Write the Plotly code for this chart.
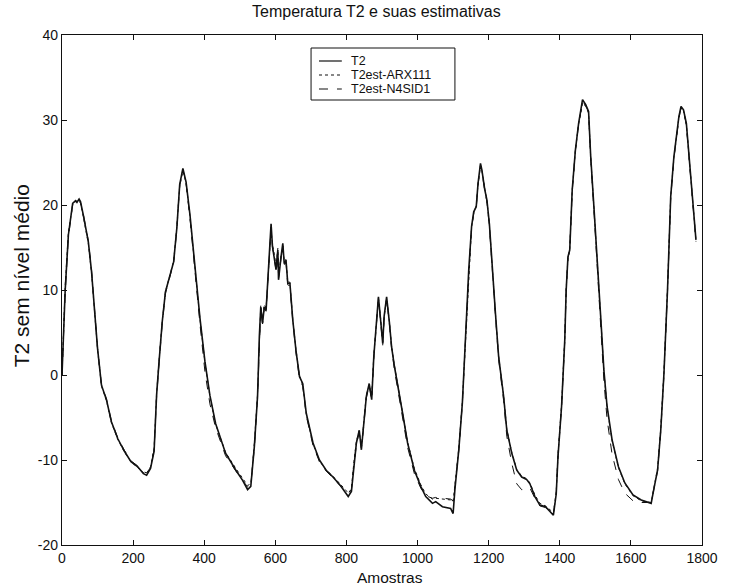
import plotly.graph_objects as go

# Sample index (Amostras)
amostras = [
    0, 5, 9, 18, 30, 38, 42, 48, 52, 60,
    74, 83, 91, 100, 111, 125, 139, 157, 176, 194,
    213, 229, 238, 249, 259, 266, 273, 282, 291, 305,
    314, 323, 331, 340, 349, 360, 374, 388, 402, 416,
    432, 460, 489, 508, 522, 531, 541, 550, 555, 559,
    564, 569, 574, 578, 583, 588, 592, 597, 602, 607,
    609, 616, 621, 625, 630, 635, 641, 649, 658, 668,
    677, 687, 706, 724, 743, 762, 781, 795, 805, 814,
    821, 828, 836, 842, 847, 856, 864, 871, 877, 885,
    890, 896, 902, 906, 913, 921, 927, 935, 944, 958,
    972, 991, 1009, 1023, 1042, 1051, 1070, 1093, 1100, 1105,
    1116, 1126, 1135, 1144, 1152, 1158, 1165, 1170, 1177, 1181,
    1189, 1195, 1202, 1209, 1219, 1228, 1242, 1251, 1265, 1279,
    1293, 1307, 1316, 1330, 1344, 1360, 1372, 1382, 1390, 1395,
    1405, 1414, 1418, 1423, 1428, 1435, 1444, 1453, 1464, 1473,
    1481, 1487, 1496, 1505, 1515, 1524, 1533, 1547, 1565, 1583,
    1606, 1629, 1657, 1666, 1675, 1684, 1693, 1703, 1707, 1712,
    1721, 1728, 1735, 1741, 1748, 1756, 1762, 1771, 1777, 1783,
]

t2 = [
    0, 5, 10, 16.5, 20.2, 20.5, 20.3, 20.7, 20.4, 18.8,
    15.7, 12.2, 7.5, 3.1, -1.2, -2.9, -5.5, -7.5, -9, -10.2,
    -10.8, -11.6, -11.8, -11, -9, -2.4, 1.6, 6.3, 9.8, 12,
    13.3, 17.3, 22.4, 24.3, 22.7, 18.8, 12.5, 6.7, 1.6, -2.4,
    -5.7, -9.2, -11.2, -12.4, -13.5, -13.1, -8.4, -2.5, 4.5, 8.0,
    6.1, 8.0, 7.6, 10.8, 13.5, 17.8, 15.1, 13.9, 12.4, 14.7,
    11.2, 13.9, 15.5, 13.1, 13.5, 10.8, 10.8, 6.5, 2.9, -0.2,
    -1.0, -4.5, -8.0, -10.0, -11.2, -12.0, -12.9, -13.7, -14.3, -13.7,
    -10.4, -8.0, -6.5, -8.8, -6.5, -2.5, -1.0, -2.9, 2.2, 6.5,
    9.2, 6.5, 3.7, 6.9, 9.2, 6.1, 3.3, 1.0, -1.0, -4.5,
    -8.0, -11.2, -13.1, -14.3, -15.1, -14.9, -15.5, -15.7, -16.3, -13.5,
    -8.8, -3.3, 4.5, 12.4, 17.5, 19.2, 19.8, 22.5, 24.9, 24.1,
    21.8, 20.6, 17.8, 13.1, 7.3, 2.2, -2.5, -6.5, -9.2, -11.2,
    -12.0, -12.3, -12.8, -14.3, -15.3, -15.5, -16.1, -16.5, -14.0, -9.6,
    -3.7, 4.1, 10, 13.9, 14.7, 21.8, 26.5, 29.6, 32.4, 31.8,
    31.0, 25.7, 19.8, 13.1, 6.9, 0.6, -3.7, -7.6, -10.8, -12.7,
    -14.1, -14.7, -15.1, -13.1, -11.2, -6.5, 0.2, 10, 15.9, 21,
    25.7, 28.4, 30.4, 31.6, 31.2, 29.6, 26.5, 22.5, 19.4, 15.9,
]

t2est_arx111 = [
    0, 5.5, 10.5, 16.8, 20.0, 20.4, 20.5, 20.5, 20.2, 18.6,
    15.5, 12.0, 7.3, 3.0, -1.3, -3.0, -5.6, -7.6, -9.1, -10.2,
    -10.9, -11.5, -11.6, -10.8, -8.6, -2.2, 1.8, 6.4, 9.8, 12.1,
    13.4, 17.5, 22.2, 24.0, 22.6, 18.6, 12.4, 6.6, 1.5, -2.5,
    -5.8, -9.1, -11.0, -12.2, -13.0, -12.8, -8.0, -2.2, 4.8, 8.2,
    6.4, 8.3, 7.9, 11.0, 13.7, 17.0, 15.3, 14.2, 12.8, 14.9,
    11.6, 14.0, 15.2, 13.4, 13.6, 11.0, 10.9, 6.6, 3.0, -0.1,
    -1.1, -4.6, -8.1, -10.1, -11.2, -11.9, -12.7, -13.4, -13.9, -13.4,
    -10.2, -7.8, -6.6, -8.5, -6.3, -2.3, -1.2, -2.6, 2.4, 6.6,
    9.0, 6.7, 3.9, 6.8, 9.0, 6.2, 3.4, 1.1, -1.0, -4.4,
    -7.9, -11.0, -12.9, -14.0, -14.6, -14.5, -14.6, -14.7, -14.9, -13.0,
    -8.6, -3.1, 4.6, 12.3, 17.4, 19.1, 19.9, 22.4, 24.6, 24.0,
    21.7, 20.5, 17.7, 13.0, 7.2, 2.2, -2.4, -6.4, -9.1, -11.1,
    -11.9, -12.2, -12.7, -14.1, -15.1, -15.4, -15.9, -16.2, -13.8, -9.4,
    -3.5, 4.2, 10.1, 13.8, 14.8, 21.7, 26.4, 29.5, 32.0, 31.6,
    30.8, 25.6, 19.7, 13.0, 6.8, 0.5, -3.8, -7.7, -10.9, -12.8,
    -14.2, -14.8, -15.0, -13.0, -11.0, -6.3, 0.4, 10.2, 16.0, 21.0,
    25.6, 28.3, 30.3, 31.4, 31.1, 29.5, 26.4, 22.4, 19.3, 15.8,
]

t2est_n4sid1 = [
    0, 4.8, 9.6, 16.2, 20.1, 20.6, 20.4, 20.6, 20.3, 18.9,
    15.8, 12.4, 7.7, 3.2, -1.1, -2.8, -5.4, -7.4, -8.9, -10.1,
    -10.7, -11.4, -11.5, -10.9, -8.8, -2.6, 1.4, 6.1, 9.6, 11.9,
    13.2, 17.1, 22.3, 24.2, 22.5, 18.4, 12.0, 6.0, 0.4, -3.4,
    -6.2, -9.5, -11.3, -12.4, -13.2, -12.9, -8.6, -2.7, 4.3, 7.8,
    6.0, 7.9, 7.5, 10.6, 13.3, 17.4, 15.0, 13.8, 12.3, 14.5,
    11.3, 13.7, 15.2, 13.0, 13.2, 10.6, 10.5, 6.3, 2.6, -0.5,
    -1.3, -4.8, -8.3, -10.2, -11.3, -12.1, -13.0, -13.6, -14.0, -13.5,
    -10.6, -8.2, -6.7, -8.6, -6.7, -2.7, -1.2, -3.0, 2.0, 6.3,
    9.0, 6.3, 3.5, 6.7, 9.0, 5.9, 3.1, 0.6, -1.5, -5.0,
    -8.5, -11.6, -13.3, -14.2, -14.5, -14.4, -14.5, -14.6, -14.8, -13.2,
    -8.9, -3.4, 4.3, 12.2, 17.3, 19.0, 19.6, 22.3, 24.7, 24.0,
    21.6, 20.4, 17.5, 12.8, 7.0, 1.8, -3.0, -7.2, -10.4, -12.8,
    -13.5, -13.4, -13.3, -14.5, -15.4, -15.6, -16.0, -16.3, -13.9, -9.5,
    -3.8, 4.0, 9.9, 13.8, 14.6, 21.6, 26.4, 29.5, 32.1, 31.7,
    30.9, 25.4, 19.4, 12.6, 6.2, -0.6, -5.2, -9.3, -12.3, -13.9,
    -14.8, -15.0, -15.0, -13.2, -11.3, -6.6, 0.0, 9.8, 15.7, 20.8,
    25.5, 28.2, 30.2, 31.4, 31.1, 29.4, 26.3, 22.3, 19.2, 15.7,
]

series_names = ["T2", "T2est-ARX111", "T2est-N4SID1"]
x_ticks = [0, 200, 400, 600, 800, 1000, 1200, 1400, 1600, 1800]
y_ticks = [-20, -10, 0, 10, 20, 30, 40]

FONT = "Liberation Sans, Arial, Helvetica, sans-serif"
INK = "#111111"
W, H = 730, 587
ML, MR, MT, MB = 62, 23, 35, 42
PW, PH = W - ML - MR, H - MT - MB


def px(xp):
    return (xp - ML) / PW


def py(yp):
    return (H - MB - yp) / PH


styles = [dict(width=1.6, dash="solid"), dict(width=1.0, dash="dot"), dict(width=1.0, dash="dash")]

fig = go.Figure()
for name, ys, st in zip(series_names, [t2, t2est_arx111, t2est_n4sid1], styles):
    fig.add_trace(go.Scatter(x=amostras, y=ys, mode="lines", name=name,
                             line=dict(color=INK, width=st["width"], dash=st["dash"]),
                             showlegend=False))

axis_common = dict(
    showgrid=False, zeroline=False, showline=True, linecolor=INK, linewidth=1.3,
    mirror="allticks", ticks="inside", ticklen=5, tickwidth=1, tickcolor=INK,
    tickfont=dict(family=FONT, size=14, color=INK), ticklabeloverflow="allow",
)

# MATLAB-style legend box with tight row spacing
shapes = [dict(type="rect", xref="paper", yref="paper", x0=px(313), x1=px(458), y0=py(100), y1=py(48),
               line=dict(color=INK, width=1), fillcolor="white", layer="above")]
annotations = []
rows = [61, 75, 89]
for name, st, ry in zip(series_names, styles, rows):
    shapes.append(dict(type="line", xref="paper", yref="paper", x0=px(321), x1=px(344), y0=py(ry), y1=py(ry),
                       line=dict(color=INK, width=1.2, dash=st["dash"]), layer="above"))
    annotations.append(dict(text=name, xref="paper", yref="paper", x=px(351), y=py(ry),
                            xanchor="left", yanchor="middle", showarrow=False,
                            font=dict(family=FONT, size=12.5, color=INK)))

annotations += [
    dict(text="Temperatura T2 e suas estimativas", xref="paper", yref="paper",
         x=px(379), y=py(12), xanchor="center", yanchor="middle", showarrow=False,
         font=dict(family=FONT, size=16, color=INK)),
    dict(text="T2 sem nível médio", xref="paper", yref="paper",
         x=px(21), y=py(276), xanchor="center", yanchor="middle", textangle=-90,
         showarrow=False, font=dict(family=FONT, size=21, color=INK)),
    dict(text="Amostras", xref="paper", yref="paper",
         x=px(393), y=py(577), xanchor="center", yanchor="middle", showarrow=False,
         font=dict(family=FONT, size=15.5, color=INK)),
]

fig.update_layout(
    width=W, height=H,
    margin=dict(l=ML, r=MR, t=MT, b=MB),
    paper_bgcolor="white", plot_bgcolor="white",
    font=dict(family=FONT, color=INK),
    showlegend=False,
    xaxis=dict(range=[0, 1800], tickvals=x_ticks, ticktext=[str(v) for v in x_ticks], **axis_common),
    yaxis=dict(range=[-20, 40], tickvals=y_ticks, ticktext=[str(v) for v in y_ticks], **axis_common),
    shapes=shapes,
    annotations=annotations,
)

fig.write_html("out.html", config={"displayModeBar": False},
               post_script="document.body.style.margin='0px';")
